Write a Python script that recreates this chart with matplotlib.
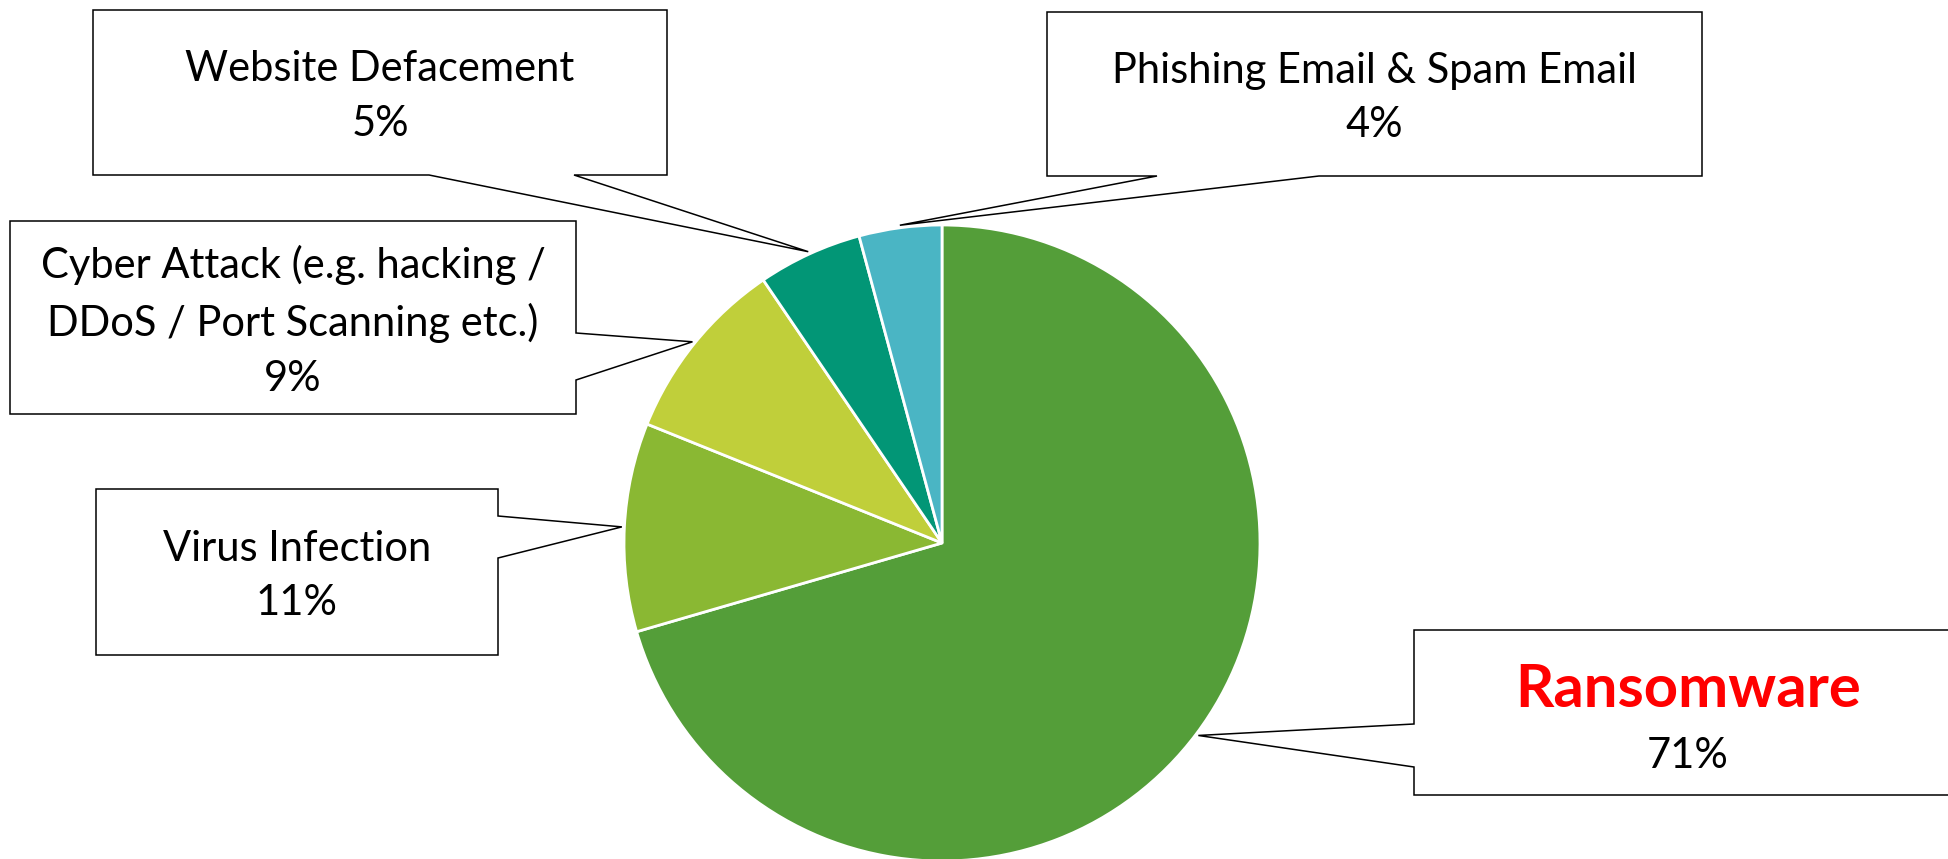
import matplotlib.pyplot as plt
from matplotlib.patches import Polygon
import numpy as np

# incident categories, clockwise from 12 o'clock
labels = [
    "Ransomware",
    "Virus Infection",
    "Cyber Attack (e.g. hacking /\nDDoS / Port Scanning etc.)",
    "Website Defacement",
    "Phishing Email & Spam Email",
]
shares = [70.5, 10.6, 9.4, 5.3, 4.2]
colors = ["#549E39", "#8AB833", "#C0CF3A", "#029676", "#4AB5C4"]

W, H = 1948, 859
plt.rcParams["font.family"] = ["Lato", "DejaVu Sans"]

fig = plt.figure(figsize=(W / 100, H / 100), dpi=100)
ax = fig.add_axes([0, 0, 1, 1])

# pie in pixel units, y measured upward
cx, cy, r = 942, H - 543, 318
wedges, _ = ax.pie(
    shares,
    colors=colors,
    startangle=90,
    counterclock=False,
    center=(cx, cy),
    radius=r,
    wedgeprops=dict(edgecolor="white", linewidth=2),
)
ax.set_xlim(0, W)
ax.set_ylim(0, H)
ax.set_aspect("equal")
ax.axis("off")

# callout boxes (left, top, right, bottom in top-down px), pointer side and base
boxes = [
    dict(box=(1414, 630, 1962, 795), side="left", base=(724, 767)),
    dict(box=(96, 489, 498, 655), side="right", base=(516, 558)),
    dict(box=(10, 221, 576, 414), side="right", base=(333, 380)),
    dict(box=(93, 10, 667, 175), side="bottom", base=(429, 574)),
    dict(box=(1047, 12, 1702, 176), side="bottom", base=(1157, 1319)),
]


def flip(pts):
    return [(x, H - y) for x, y in pts]


def pct(v):
    return f"{int(v + 0.5)}%"


for i, (w, b) in enumerate(zip(wedges, boxes)):
    mid = np.deg2rad((w.theta1 + w.theta2) / 2)
    tip = (cx + r * 1.008 * np.cos(mid), cy + r * 1.008 * np.sin(mid))
    tip = (tip[0], H - tip[1])
    x0, y0, x1, y1 = b["box"]
    a1, a2 = b["base"]
    if b["side"] == "bottom":
        pts = [(x0, y0), (x1, y0), (x1, y1), (a2, y1), tip, (a1, y1), (x0, y1)]
    elif b["side"] == "right":
        pts = [(x0, y0), (x1, y0), (x1, a1), tip, (x1, a2), (x1, y1), (x0, y1)]
    else:
        pts = [(x0, y0), (x1, y0), (x1, y1), (x0, y1), (x0, a2), tip, (x0, a1)]
    ax.add_patch(Polygon(flip(pts), closed=True, facecolor="white",
                         edgecolor="black", linewidth=1.1, zorder=5))

    tx = (x0 + x1) / 2
    ty = (y0 + y1) / 2
    if i == 0:
        ax.text(tx, H - 690, labels[i], ha="center", va="center", color="#FF0000",
                fontsize=43, fontweight="bold", zorder=6)
        ax.text(tx, H - 756, pct(shares[i]), ha="center", va="center",
                fontsize=30, zorder=6)
    else:
        ax.text(tx, H - ty - 4, f"{labels[i]}\n{pct(shares[i])}", ha="center",
                va="center", fontsize=30, linespacing=1.53, zorder=6)

fig.savefig("out.png", dpi=100)
